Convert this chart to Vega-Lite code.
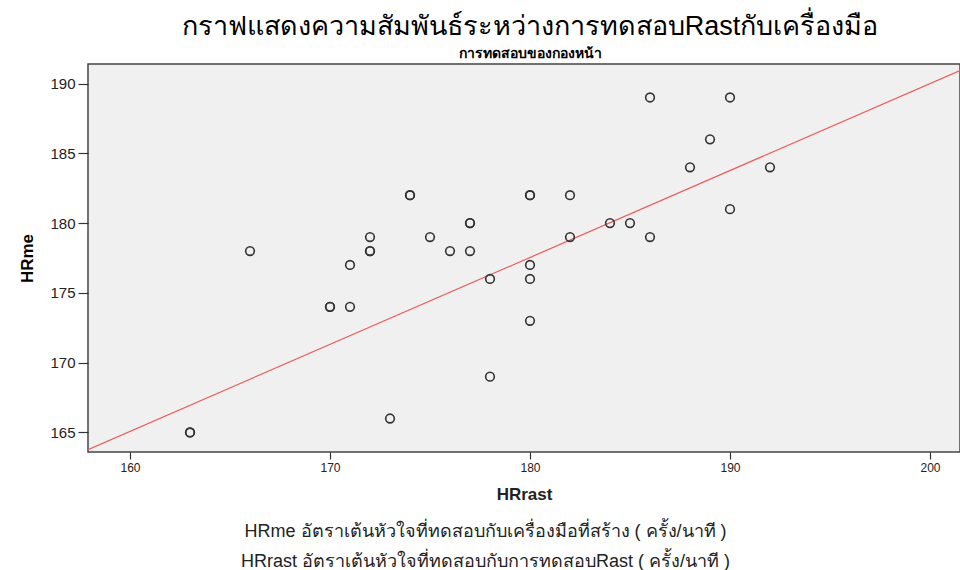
{
  "$schema": "https://vega.github.io/schema/vega-lite/v6.json",
  "width": 872,
  "height": 388,
  "autosize": "none",
  "padding": {"left": 88, "top": 64, "right": 0, "bottom": 118},
  "background": "white",
  "config": {
    "font": "Liberation Sans",
    "view": {"fill": "#f0f0f0", "stroke": "#444444", "strokeWidth": 1.5}
  },
  "title": {
    "text": "กราฟแสดงความสัมพันธ์ระหว่างการทดสอบRastกับเครื่องมือ",
    "subtitle": "การทดสอบของกองหน้า",
    "fontSize": 27,
    "fontWeight": "normal",
    "color": "#000000",
    "subtitleFontSize": 14,
    "subtitleFontWeight": "bold",
    "subtitleColor": "#000000",
    "subtitlePadding": 6,
    "anchor": "middle",
    "offset": 2,
    "dx": 6
  },
  "datasets": {
    "points": [
      {"HRrast": 166, "HRme": 178},
      {"HRrast": 163, "HRme": 165},
      {"HRrast": 163, "HRme": 165},
      {"HRrast": 170, "HRme": 174},
      {"HRrast": 170, "HRme": 174},
      {"HRrast": 171, "HRme": 177},
      {"HRrast": 171, "HRme": 174},
      {"HRrast": 172, "HRme": 179},
      {"HRrast": 172, "HRme": 178},
      {"HRrast": 172, "HRme": 178},
      {"HRrast": 173, "HRme": 166},
      {"HRrast": 174, "HRme": 182},
      {"HRrast": 174, "HRme": 182},
      {"HRrast": 175, "HRme": 179},
      {"HRrast": 176, "HRme": 178},
      {"HRrast": 177, "HRme": 180},
      {"HRrast": 177, "HRme": 180},
      {"HRrast": 177, "HRme": 178},
      {"HRrast": 178, "HRme": 176},
      {"HRrast": 178, "HRme": 169},
      {"HRrast": 180, "HRme": 182},
      {"HRrast": 180, "HRme": 182},
      {"HRrast": 180, "HRme": 177},
      {"HRrast": 180, "HRme": 176},
      {"HRrast": 180, "HRme": 173},
      {"HRrast": 182, "HRme": 182},
      {"HRrast": 182, "HRme": 179},
      {"HRrast": 184, "HRme": 180},
      {"HRrast": 185, "HRme": 180},
      {"HRrast": 186, "HRme": 189},
      {"HRrast": 186, "HRme": 179},
      {"HRrast": 188, "HRme": 184},
      {"HRrast": 189, "HRme": 186},
      {"HRrast": 190, "HRme": 189},
      {"HRrast": 190, "HRme": 181},
      {"HRrast": 192, "HRme": 184}
    ],
    "fit": [
      {"HRrast": 157.9, "HRme": 163.77},
      {"HRrast": 201.5, "HRme": 190.93}
    ]
  },
  "resolve": {"axis": {"x": "independent"}},
  "layer": [
    {
      "data": {"name": "fit"},
      "mark": {"type": "line", "color": "#f05a5a", "strokeWidth": 1.2, "clip": true},
      "encoding": {
        "x": {
          "field": "HRrast", "type": "quantitative",
          "scale": {"domain": [157.9, 201.5], "nice": false, "zero": false},
          "axis": {
            "orient": "bottom",
            "domain": false, "ticks": false, "labels": false, "grid": false,
            "title": ["HRme อัตราเต้นหัวใจที่ทดสอบกับเครื่องมือที่สร้าง ( ครั้ง/นาที )", "HRrast อัตราเต้นหัวใจที่ทดสอบกับการทดสอบRast ( ครั้ง/นาที )"],
            "titleFontSize": 18,
            "titleFontWeight": "normal",
            "titleColor": "#222222",
            "titleLineHeight": 30,
            "titleBaseline": "top",
            "titleAnchor": "start",
            "titleAlign": "center",
            "titleX": 397,
            "titleY": 70
          }
        },
        "y": {
          "field": "HRme", "type": "quantitative",
          "scale": {"domain": [163.6, 191.4], "nice": false, "zero": false}
        }
      }
    },
    {
      "data": {"name": "points"},
      "mark": {"type": "point", "shape": "circle", "filled": false, "stroke": "#333333", "strokeWidth": 1.6, "size": 75, "opacity": 1},
      "encoding": {
        "x": {
          "field": "HRrast", "type": "quantitative",
          "scale": {"domain": [157.9, 201.5], "nice": false, "zero": false},
          "axis": {
            "orient": "bottom",
            "values": [160, 170, 180, 190, 200],
            "domain": false, "grid": false,
            "tickColor": "#333333", "tickSize": 7, "tickWidth": 1.2,
            "labelFontSize": 12, "labelColor": "#222222", "labelPadding": 3,
            "title": "HRrast",
            "titleFontSize": 17, "titleFontWeight": "bold", "titleColor": "#222222",
            "titlePadding": 13
          }
        },
        "y": {
          "field": "HRme", "type": "quantitative",
          "scale": {"domain": [163.6, 191.4], "nice": false, "zero": false},
          "axis": {
            "values": [165, 170, 175, 180, 185, 190],
            "domain": false, "grid": false,
            "tickColor": "#333333", "tickSize": 10, "tickWidth": 1.2,
            "labelFontSize": 15, "labelColor": "#222222", "labelPadding": 3,
            "title": "HRme",
            "titleFontSize": 17, "titleFontWeight": "bold", "titleColor": "#000000",
            "titlePadding": 13
          }
        }
      }
    }
  ]
}
